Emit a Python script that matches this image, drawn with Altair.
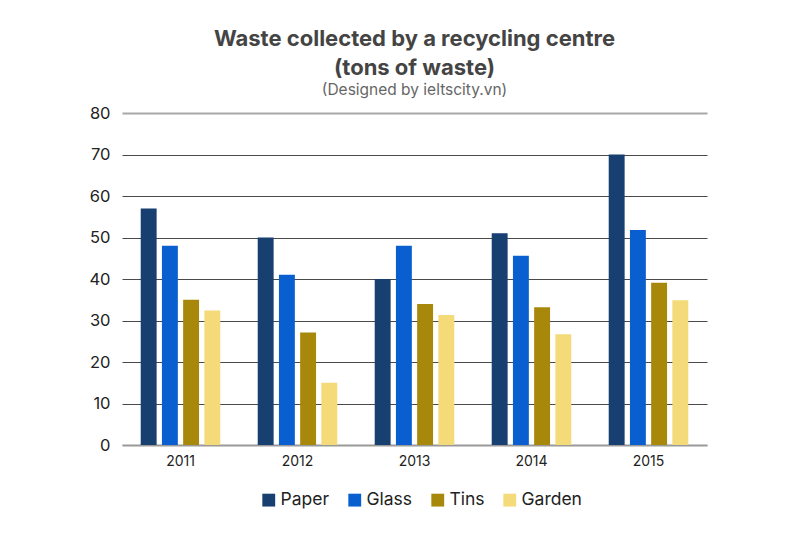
import altair as alt
import pandas as pd

years = ["2011", "2012", "2013", "2014", "2015"]
series = ["Paper", "Glass", "Tins", "Garden"]
paper = [57, 50, 40, 51, 70]
glass = [48, 41, 48, 45.6, 51.8]
tins = [35, 27.1, 34, 33.2, 39.1]
garden = [32.4, 15, 31.3, 26.7, 34.9]
colors = ["#173f70", "#0a5fd0", "#a8880a", "#f5da79"]

rows = []
for name, vals in zip(series, [paper, glass, tins, garden]):
    for y, v in zip(years, vals):
        rows.append({"Year": y, "Type": name, "Value": v})
df = pd.DataFrame(rows)

FONT = "Inter"

chart = alt.Chart(df).mark_bar().encode(
    x=alt.X("Year:N", sort=years, title=None,
            scale=alt.Scale(paddingInner=0.32, paddingOuter=0.16),
            axis=alt.Axis(labelAngle=0, ticks=False, labelFontSize=14, labelColor="#222",
                          labelPadding=9, domainColor="#999", domainWidth=2, labelFont=FONT)),
    xOffset=alt.XOffset("Type:N", sort=series, scale=alt.Scale(paddingInner=0.25, paddingOuter=0)),
    y=alt.Y("Value:Q", title=None,
            scale=alt.Scale(domain=[0, 80], nice=False),
            axis=alt.Axis(values=[0, 10, 20, 30, 40, 50, 60, 70, 80], ticks=False, domain=False,
                          labelFontSize=16.5, labelColor="#222", labelPadding=12, labelFont=FONT,
                          gridColor={"condition": {"test": "datum.value === 80 || datum.value === 0", "value": "#a8a8a8"}, "value": "#4a4a4a"},
                          gridWidth={"condition": {"test": "datum.value === 80", "value": 2}, "value": 1})),
    color=alt.Color("Type:N", sort=series, title=None,
                    scale=alt.Scale(domain=series, range=colors),
                    legend=alt.Legend(orient="none", legendX=138, legendY=378, direction="horizontal",
                                      symbolType="square", symbolSize=165, symbolStrokeWidth=0,
                                      labelFontSize=17.5, labelColor="#222", labelOffset=3,
                                      labelFont=FONT, columnPadding=16, symbolOpacity=1)),
).properties(
    width=585, height=332,
    title=alt.TitleParams(
        text=["Waste collected by a recycling centre", "(tons of waste)"],
        subtitle="(Designed by ieltscity.vn)",
        font=FONT, fontSize=22, fontWeight="bold", color="#444", lineHeight=29,
        subtitleFont=FONT, subtitleFontSize=15.5, subtitleColor="#666", subtitlePadding=3,
        anchor="middle", offset=6,
    ),
    autosize=alt.AutoSizeParams(type="none"),
    padding={"left": 122, "top": 113, "right": 93, "bottom": 88},
).configure_view(stroke=None)

chart.save("out.html", embed_options={"renderer": "svg", "actions": False})
